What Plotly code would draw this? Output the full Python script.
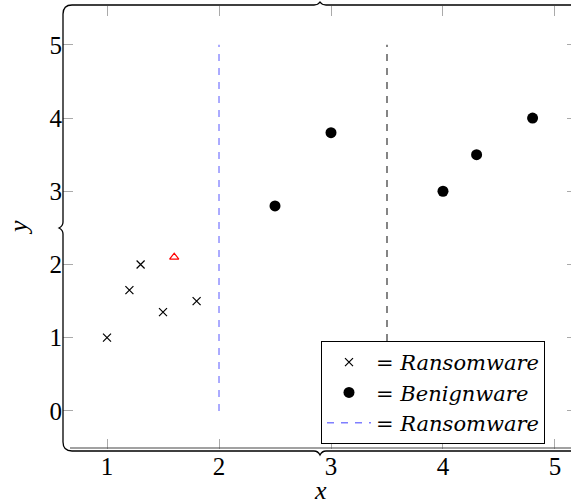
import plotly.graph_objects as go

# Data
ransom_x = [1.0, 1.2, 1.3, 1.5, 1.8]
ransom_y = [1.0, 1.65, 2.0, 1.35, 1.5]
benign_x = [2.5, 3.0, 4.0, 4.3, 4.8]
benign_y = [2.8, 3.8, 3.0, 3.5, 4.0]
query_x = [1.6]
query_y = [2.1]
blue_line_x = [2, 2]
blue_line_y = [0, 5]
gray_line_x = [3.5, 3.5]
gray_line_y = [0, 5]
x_ticks = [1, 2, 3, 4, 5]
y_ticks = [0, 1, 2, 3, 4, 5]
legend_names = ["= <i>Ransomware</i>", "= <i>Benignware</i>", "= <i>Ransomware</i>"]

W, H = 571, 504
L, R, T, B = 63, 0, 6, 55
PW, PH = W - L - R, H - T - B

FONT = "Liberation Serif"
LFONT = "DejaVu Serif"

fig = go.Figure()
fig.add_trace(go.Scatter(x=gray_line_x, y=gray_line_y, mode="lines",
                         line=dict(color="#444444", width=1.3, dash="7px,7px"),
                         showlegend=False))
fig.add_trace(go.Scatter(x=ransom_x, y=ransom_y, mode="markers", name=legend_names[0],
                         marker=dict(symbol="x-thin-open", size=8, color="black",
                                     line=dict(color="black", width=1.2))))
fig.add_trace(go.Scatter(x=benign_x, y=benign_y, mode="markers", name=legend_names[1],
                         marker=dict(symbol="circle", size=11, color="black")))
fig.add_trace(go.Scatter(x=blue_line_x, y=blue_line_y, mode="lines", name=legend_names[2],
                         line=dict(color="#7f7fff", width=1.3, dash="7px,7px")))
fig.add_trace(go.Scatter(x=query_x, y=query_y, mode="markers", showlegend=False,
                         marker=dict(symbol="triangle-up-open", size=8, color="red",
                                     line=dict(color="red", width=1.2))))
# invisible trace for right-side ticks
fig.add_trace(go.Scatter(x=[None], y=[None], yaxis="y2", showlegend=False))


def P(px, py):
    return f"{(px - L) / PW:.5f},{(H - B - py) / PH:.5f}"


frame = ("M " + P(63, 14) + " Q " + P(63, 5) + " " + P(72, 5) +
         " L " + P(314, 5) + " Q " + P(318, 5) + " " + P(320, 2) +
         " Q " + P(322, 5) + " " + P(326, 5) + " L " + P(575, 5))
left = ("M " + P(63, 14) + " L " + P(63, 222) + " Q " + P(63, 226) + " " + P(59, 228) +
        " Q " + P(63, 230) + " " + P(63, 234) + " L " + P(63, 442) +
        " Q " + P(63, 451) + " " + P(72, 451) + " L " + P(314, 451) +
        " Q " + P(318, 451) + " " + P(320, 455) + " Q " + P(322, 451) + " " + P(326, 451) +
        " L " + P(575, 451))
bottom = "M " + P(70, 448) + " L " + P(575, 448)

shapes = [
    dict(type="path", path=frame, xref="paper", yref="paper", line=dict(color="black", width=1.3)),
    dict(type="path", path=left, xref="paper", yref="paper", line=dict(color="black", width=1.3)),
    dict(type="path", path=bottom, xref="paper", yref="paper", line=dict(color="#444444", width=1.1)),
]

fig.update_layout(
    width=W, height=H,
    margin=dict(l=L, r=R, t=T, b=B),
    plot_bgcolor="white", paper_bgcolor="white",
    font=dict(family=FONT, size=25, color="black"),
    xaxis=dict(range=[0.607, 5.143], tickvals=x_ticks, ticks="inside", ticklen=10,
               tickcolor="#aaaaaa", tickwidth=1, mirror="ticks", showgrid=False,
               zeroline=False, showline=False, tickfont=dict(size=25)),
    yaxis=dict(range=[-0.52, 5.53], tickvals=y_ticks, ticks="inside", ticklen=10,
               tickcolor="#aaaaaa", tickwidth=1, showgrid=False, zeroline=False,
               showline=False, tickfont=dict(size=25)),
    yaxis2=dict(range=[-0.52, 5.53], tickvals=y_ticks, overlaying="y", side="right",
                ticks="inside", ticklen=4, tickcolor="#aaaaaa", showticklabels=False,
                showgrid=False, zeroline=False, showline=False),
    legend=dict(x=(321 - L) / PW, y=(H - B - 341) / PH, xanchor="left", yanchor="top",
                bgcolor="white", bordercolor="black", borderwidth=1,
                font=dict(family=LFONT, size=21), tracegroupgap=0, itemwidth=44),
    shapes=shapes,
    annotations=[
        dict(text="<i>x</i>", x=(320 - L) / PW, y=(H - B - 491) / PH, xref="paper", yref="paper",
             xanchor="center", yanchor="middle",
             showarrow=False, font=dict(family=FONT, size=26)),
        dict(text="<i>y</i>", x=(18 - L) / PW, y=(H - B - 228) / PH, xref="paper", yref="paper",
             xanchor="center", yanchor="middle",
             showarrow=False, textangle=-90, font=dict(family=FONT, size=26)),
    ],
)

fig.write_html("out.html")
